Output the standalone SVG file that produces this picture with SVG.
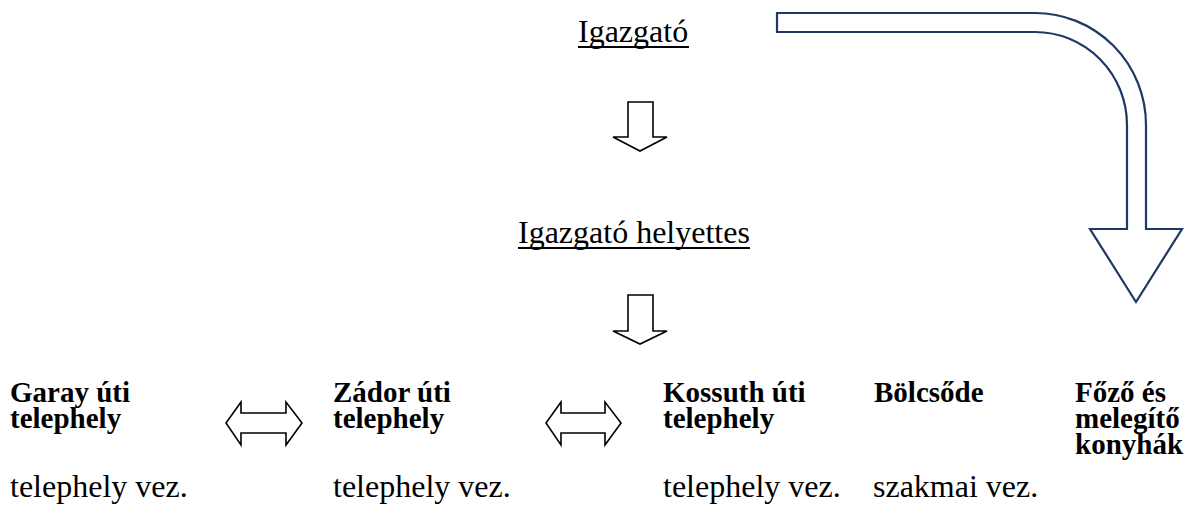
<svg xmlns="http://www.w3.org/2000/svg" width="1197" height="506" viewBox="0 0 1197 506">
<style>
.reg{font-family:'Liberation Serif','Times New Roman',serif;font-size:32px;fill:#000}
.bold{font-family:'Liberation Serif','Times New Roman',serif;font-size:29px;font-weight:bold;fill:#000}
.arr{fill:#fff;stroke:#000;stroke-width:1.6;stroke-linejoin:miter}
.ul{stroke:#000;stroke-width:2}
</style>
<rect width="1197" height="506" fill="#fff"/>
<g id="connectors">
<path id="big-arrow" d="M777,13 L1035,13 A111,112 0 0 1 1146,125 L1146,229 L1182,229 L1136,302 L1090,229 L1127,229 L1127,125 A92,93 0 0 0 1035,32 L777,32 Z" fill="#fff" stroke="#1f3864" stroke-width="2.2" stroke-linejoin="miter"/>
<path class="arr" d="M628,102 L653,102 L653,137 L667,137 L640,151 L613,137 L628,137 Z"/>
<path class="arr" d="M628,295 L653,295 L653,331 L667,331 L640,344 L613,331 L628,331 Z"/>
<path class="arr" d="M226,423 L241,402 L241,413 L286,413 L286,402 L302,423 L286,445 L286,433 L241,433 L241,445 Z"/>
<path class="arr" d="M546,423 L561,402 L561,413 L605,413 L605,402 L621,423 L605,445 L605,433 L561,433 L561,445 Z"/>
</g>
<g id="igazgato">
<text class="reg" x="578" y="42">Igazgató</text>
<line class="ul" x1="578" y1="47" x2="689" y2="47"/>
</g>
<g id="igazgato-helyettes">
<text class="reg" x="518" y="243">Igazgató helyettes</text>
<line class="ul" x1="518" y1="248" x2="750" y2="248"/>
</g>
<g id="garay">
<text class="bold" x="10" y="402">Garay úti<tspan x="10" dy="26">telephely</tspan></text>
<text class="reg" x="10" y="497">telephely vez.</text>
</g>
<g id="zador">
<text class="bold" x="333" y="402">Zádor úti<tspan x="333" dy="26">telephely</tspan></text>
<text class="reg" x="333" y="497">telephely vez.</text>
</g>
<g id="kossuth">
<text class="bold" x="663" y="402">Kossuth úti<tspan x="663" dy="26">telephely</tspan></text>
<text class="reg" x="663" y="497">telephely vez.</text>
</g>
<g id="bolcsode">
<text class="bold" x="874" y="402">Bölcsőde</text>
<text class="reg" x="873" y="497">szakmai vez.</text>
</g>
<g id="konyhak">
<text class="bold" x="1075" y="402">Főző és<tspan x="1075" dy="26">melegítő</tspan><tspan x="1075" dy="26">konyhák</tspan></text>
</g>
</svg>
